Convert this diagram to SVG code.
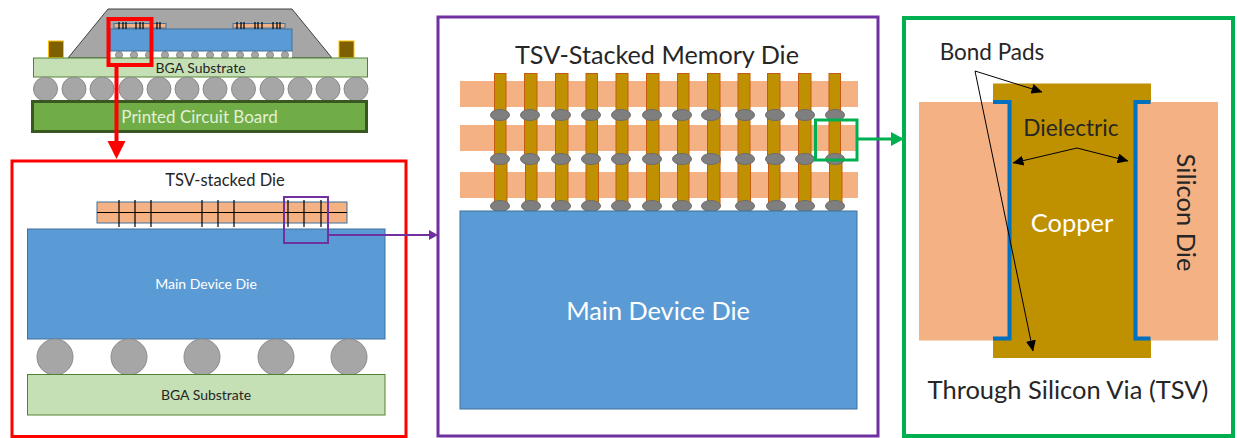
<svg xmlns="http://www.w3.org/2000/svg" width="1238" height="438" viewBox="0 0 1238 438">
<defs>
<style>
text{font-family:Lato,"Open Sans","Liberation Sans",sans-serif;fill:#262626}
.si{fill:#f4b183}
.blue{fill:#5b9bd5;stroke:#41719c;stroke-width:1}
.sub{fill:#c5e0b4;stroke:#548235;stroke-width:1}
.ball{fill:#a6a6a6;stroke:#8c8c8c;stroke-width:1}
.tsv{fill:#bf9000;stroke:#c55a11;stroke-width:1}
.bump{fill:#7f7f7f;stroke:#6d6d6d;stroke-width:1}
.t{stroke:#000;stroke-width:1.200;fill:none}
.ln{stroke:#000;stroke-width:1;fill:none}
</style>
<marker id="ah" markerWidth="11" markerHeight="10" refX="10.500" refY="5" orient="auto" markerUnits="userSpaceOnUse"><path d="M0 0L11 5L0 10Z" fill="#000"/></marker>
<marker id="ahs" markerWidth="11" markerHeight="10" refX="0.500" refY="5" orient="auto" markerUnits="userSpaceOnUse"><path d="M11 0L0 5L11 10Z" fill="#000"/></marker>
</defs>
<g id="package">
<path d="M68 58L108 9H292L332 58Z" fill="#a6a6a6" stroke="#404040" stroke-width="1"/>
<rect x="48.500" y="41" width="15" height="16.500" fill="#7f6000" stroke="#ffc000"/>
<rect x="339" y="41" width="15" height="16.500" fill="#7f6000" stroke="#ffc000"/>
<rect x="110" y="51" width="182" height="7" fill="#fff"/>
<g class="ball"><circle cx="119" cy="55" r="3.500"/><circle cx="134" cy="55" r="3.500"/><circle cx="149" cy="55" r="3.500"/><circle cx="165" cy="55" r="3.500"/><circle cx="180" cy="55" r="3.500"/><circle cx="195" cy="55" r="3.500"/><circle cx="210" cy="55" r="3.500"/><circle cx="225" cy="55" r="3.500"/><circle cx="240" cy="55" r="3.500"/><circle cx="255" cy="55" r="3.500"/><circle cx="270" cy="55" r="3.500"/><circle cx="285" cy="55" r="3.500"/></g>
<rect x="110" y="29" width="182" height="22" class="blue"/>
<rect x="114" y="23.500" width="52" height="4.500" class="si" stroke="#41719c"/>
<rect x="233" y="23.500" width="52" height="4.500" class="si" stroke="#41719c"/>
<path class="t" d="M119 22v7M123 22v7M126 22v7M136 22v7M140 22v7M143 22v7M157 22v7M160 22v7M237 22v7M241 22v7M244 22v7M255 22v7M258 22v7M262 22v7M273 22v7M277 22v7M280 22v7"/>
</g>
<g id="bga-top">
<rect x="33.500" y="58" width="334" height="19" class="sub"/>
<text x="200.500" y="73" font-size="14" text-anchor="middle">BGA Substrate</text>
</g>
<g id="balls-top" class="ball">
<circle cx="45.500" cy="89" r="12"/><circle cx="74" cy="89" r="12"/><circle cx="102" cy="89" r="12"/><circle cx="131" cy="89" r="12"/><circle cx="159" cy="89" r="12"/><circle cx="187" cy="89" r="12"/><circle cx="215" cy="89" r="12"/><circle cx="243.500" cy="89" r="12"/><circle cx="272" cy="89" r="12"/><circle cx="300" cy="89" r="12"/><circle cx="328" cy="89" r="12"/><circle cx="356" cy="89" r="12"/>
</g>
<g id="pcb">
<rect x="32.500" y="101.500" width="334" height="30" fill="#70ad47" stroke="#385723" stroke-width="3"/>
<text x="199.500" y="122.500" font-size="17" text-anchor="middle" style="fill:#e2f0d9">Printed Circuit Board</text>
</g>
<g id="panel-red">
<rect x="12" y="161" width="394" height="275.500" fill="#fff" stroke="#ff0000" stroke-width="3"/>
<text x="225" y="186" font-size="16.500" text-anchor="middle">TSV-stacked Die</text>
<rect x="97" y="202" width="250" height="21" class="si" stroke="#41719c"/>
<rect x="27.500" y="229" width="357.500" height="110" class="blue"/>
<path class="t" d="M97 212.500H347M119 200v27M135 200v27M151 200v27M202 200v27M218 200v27M234 200v27M288 200v27M304 200v27M321 200v27"/>
<text x="206" y="288.500" font-size="14" text-anchor="middle" style="fill:#fff">Main Device Die</text>
<g class="ball"><circle cx="55" cy="357" r="18"/><circle cx="129" cy="357" r="18"/><circle cx="202" cy="357" r="18"/><circle cx="276" cy="357" r="18"/><circle cx="349" cy="357" r="18"/></g>
<rect x="27.500" y="374.500" width="357.500" height="40.500" class="sub"/>
<text x="206" y="400" font-size="14" text-anchor="middle">BGA Substrate</text>
</g>
<g id="panel-purple">
<rect x="438" y="17" width="440" height="419" fill="#fff" stroke="#7030a0" stroke-width="3"/>
<text x="657" y="64" font-size="25.200" text-anchor="middle">TSV-Stacked Memory Die</text>
<rect x="460" y="81" width="398" height="26" class="si"/>
<rect x="460" y="125" width="398" height="26" class="si"/>
<rect x="460" y="172" width="398" height="26" class="si"/>
<g class="tsv">
<rect x="494.500" y="73.500" width="11.500" height="90"/><rect x="524.500" y="73.500" width="12.500" height="90"/><rect x="555.500" y="73.500" width="12.500" height="90"/><rect x="586" y="73.500" width="11.500" height="90"/><rect x="616" y="73.500" width="12" height="90"/><rect x="646.500" y="73.500" width="12.500" height="90"/><rect x="677.500" y="73.500" width="11.500" height="90"/><rect x="707.500" y="73.500" width="12.500" height="90"/><rect x="738" y="73.500" width="12" height="90"/><rect x="767.500" y="73.500" width="12.500" height="90"/><rect x="798.500" y="73.500" width="12.500" height="90"/><rect x="829" y="73.500" width="11.500" height="90"/>
<rect x="494.500" y="160" width="12.500" height="46"/><rect x="525.500" y="160" width="11.500" height="46"/><rect x="555.500" y="160" width="12.500" height="46"/><rect x="586" y="160" width="12.500" height="46"/><rect x="616" y="160" width="12" height="46"/><rect x="646.500" y="160" width="13" height="46"/><rect x="677.500" y="160" width="11.500" height="46"/><rect x="707.500" y="160" width="12.500" height="46"/><rect x="738" y="160" width="12.500" height="46"/><rect x="768.500" y="160" width="11.500" height="46"/><rect x="798.500" y="160" width="12.500" height="46"/><rect x="829.500" y="160" width="12.500" height="46"/>
</g>
<g class="bump">
<ellipse cx="500" cy="115" rx="9.500" ry="5.500"/><ellipse cx="530" cy="115" rx="9.500" ry="5.500"/><ellipse cx="561" cy="115" rx="9.500" ry="5.500"/><ellipse cx="591" cy="115" rx="9.500" ry="5.500"/><ellipse cx="621" cy="115" rx="9.500" ry="5.500"/><ellipse cx="652" cy="115" rx="9.500" ry="5.500"/><ellipse cx="682" cy="115" rx="9.500" ry="5.500"/><ellipse cx="711" cy="115" rx="9.500" ry="5.500"/><ellipse cx="745" cy="115" rx="9.500" ry="5.500"/><ellipse cx="775" cy="115" rx="9.500" ry="5.500"/><ellipse cx="805" cy="115" rx="9.500" ry="5.500"/><ellipse cx="835" cy="115" rx="9.500" ry="5.500"/>
<ellipse cx="500" cy="159" rx="9.500" ry="5.500"/><ellipse cx="530" cy="159" rx="9.500" ry="5.500"/><ellipse cx="561" cy="159" rx="9.500" ry="5.500"/><ellipse cx="591" cy="159" rx="9.500" ry="5.500"/><ellipse cx="621" cy="159" rx="9.500" ry="5.500"/><ellipse cx="652" cy="159" rx="9.500" ry="5.500"/><ellipse cx="682" cy="159" rx="9.500" ry="5.500"/><ellipse cx="711" cy="159" rx="9.500" ry="5.500"/><ellipse cx="745" cy="159" rx="9.500" ry="5.500"/><ellipse cx="775" cy="159" rx="9.500" ry="5.500"/><ellipse cx="805" cy="159" rx="9.500" ry="5.500"/><ellipse cx="835" cy="159" rx="9.500" ry="5.500"/>
<ellipse cx="500" cy="206" rx="9.500" ry="5.500"/><ellipse cx="531" cy="206" rx="9.500" ry="5.500"/><ellipse cx="561" cy="206" rx="9.500" ry="5.500"/><ellipse cx="591" cy="206" rx="9.500" ry="5.500"/><ellipse cx="621" cy="206" rx="9.500" ry="5.500"/><ellipse cx="652" cy="206" rx="9.500" ry="5.500"/><ellipse cx="682" cy="206" rx="9.500" ry="5.500"/><ellipse cx="711" cy="206" rx="9.500" ry="5.500"/><ellipse cx="745" cy="206" rx="9.500" ry="5.500"/><ellipse cx="776" cy="206" rx="9.500" ry="5.500"/><ellipse cx="805" cy="206" rx="9.500" ry="5.500"/><ellipse cx="835" cy="206" rx="9.500" ry="5.500"/>
</g>
<rect x="460" y="211" width="397" height="198" class="blue"/>
<text x="658" y="319.500" font-size="25.300" text-anchor="middle" style="fill:#fff">Main Device Die</text>
</g>
<g id="panel-green">
<rect x="904" y="18" width="329" height="418" fill="#fff" stroke="#00b050" stroke-width="4"/>
<rect x="919" y="102" width="299" height="238.500" class="si"/>
<path d="M993 83.500H1151V102H1136V340H1151V358H993V340H1008V102H993Z" fill="#bf9000"/>
<path d="M993 102H1009.500V338.500H993M1150.500 102H1135.500V338.500H1150.500" fill="none" stroke="#0070c0" stroke-width="4"/>
<text x="992" y="60" font-size="22.500" text-anchor="middle">Bond Pads</text>
<text x="1071" y="136" font-size="22.700" text-anchor="middle">Dielectric</text>
<text x="1072" y="232" font-size="25.500" text-anchor="middle" style="fill:#fff">Copper</text>
<text transform="translate(1177 212.500) rotate(90)" font-size="25.500" text-anchor="middle">Silicon Die</text>
<text x="1068" y="399" font-size="25.500" text-anchor="middle">Through Silicon Via (TSV)</text>
</g>
<g id="connectors">
<path class="ln" d="M975 71L1042 92" marker-end="url(#ah)"/>
<path class="ln" d="M975 71L1033 351" marker-end="url(#ah)"/>
<path class="ln" d="M1013 163L1077 148L1128 161" marker-start="url(#ahs)" marker-end="url(#ah)"/>
<rect x="108.500" y="19" width="43" height="46" fill="none" stroke="#ff0000" stroke-width="4"/>
<path d="M116.500 65V142" stroke="#ff0000" stroke-width="4" fill="none"/>
<path d="M107.500 141H125.500L116.500 159Z" fill="#ff0000"/>
<rect x="284" y="197" width="44" height="46" fill="none" stroke="#7030a0" stroke-width="2"/>
<path d="M328 235H431" stroke="#7030a0" stroke-width="2" fill="none"/>
<path d="M429 230L438 235L429 240Z" fill="#7030a0"/>
<rect x="815.500" y="120" width="41.500" height="40" fill="none" stroke="#00b050" stroke-width="3"/>
<path d="M857 139H892" stroke="#00b050" stroke-width="3" fill="none"/>
<path d="M891 132L904 139L891 146Z" fill="#00b050"/>
</g>
</svg>
